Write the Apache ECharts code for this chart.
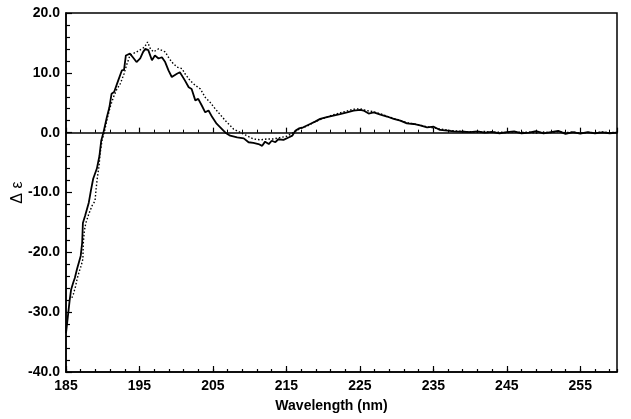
<!DOCTYPE html>
<html>
<head>
<meta charset="utf-8">
<script src="https://cdn.jsdelivr.net/npm/echarts@6/dist/echarts.min.js"></script>
<style>html,body{margin:0;padding:0;background:#fff}#c{width:631px;height:419px}</style>
</head>
<body>
<div id="c"></div>
<script>
// Solid curve (wavelength nm, delta epsilon)
const solidWavelength = [185.0,185.1,185.3,185.5,185.7,186.0,186.2,186.5,186.8,187.0,187.2,187.3,187.6,188.1,188.4,188.7,189.2,189.55,189.8,190.1,190.56,190.9,191.2,191.55,192.1,192.6,192.9,193.15,193.7,194.1,194.6,195.1,195.5,195.8,196.2,196.7,197.1,197.6,198.05,198.5,198.95,199.4,200.1,200.5,201.2,201.7,202.1,202.6,203.0,203.5,203.95,204.4,204.9,205.5,206.0,206.2,206.7,207.35,208.3,209.2,209.85,210.5,211.2,211.7,212.1,212.6,213.0,213.5,213.9,214.6,215.3,215.8,216.2,216.7,217.3,218.3,218.9,219.6,220.5,221.4,222.3,223.25,224.15,225.05,225.5,226.2,226.9,227.8,228.7,229.6,230.5,231.4,232.3,233.2,234.15,235.05,235.9,236.9,237.8,239.1,240,241,242,243,244,245,246,247,248,249,250,251,252,253,254,255,256,257,258,259,260];
const solidDelta = [-33.5,-32.4,-30.2,-28.0,-26.2,-25.0,-24.3,-22.8,-21.5,-20.6,-18.4,-15.1,-13.9,-11.7,-9.6,-7.7,-6.0,-3.9,-1.3,0.05,2.57,4.2,6.5,6.8,8.7,10.4,10.5,12.9,13.2,12.6,11.8,12.4,13.5,14.0,13.8,12.1,12.9,12.4,12.6,11.8,10.4,9.3,9.85,10.1,8.7,7.6,7.3,5.4,5.65,4.5,3.4,3.7,2.6,1.5,0.9,0.6,0.0,-0.5,-0.8,-0.95,-1.6,-1.7,-1.9,-2.2,-1.5,-1.9,-1.35,-1.6,-1.1,-1.2,-0.8,-0.5,0.3,0.7,0.9,1.5,1.85,2.3,2.6,2.85,3.1,3.4,3.7,3.8,3.7,3.2,3.4,3.0,2.7,2.3,2.0,1.55,1.45,1.2,0.9,1.0,0.45,0.35,0.2,0.15,0.1,0.2,0.0,0.15,-0.1,0.1,0.2,-0.1,0.0,0.25,-0.1,0.1,0.3,-0.2,0.1,-0.15,0.1,-0.1,0.05,-0.1,0.0];

// Dotted curve (wavelength nm, delta epsilon)
const dottedWavelength = [185.8,186.0,186.3,186.5,186.8,187.05,187.3,187.35,187.5,187.7,188.1,188.55,188.95,189.1,189.25,189.5,189.65,189.9,190.2,190.55,191.0,191.45,191.9,192.4,192.9,193.3,193.7,194.1,194.6,195.3,195.7,196.1,196.5,196.9,197.6,198.05,198.5,198.95,199.4,200.1,200.8,201.2,201.9,202.6,203.3,203.95,204.6,205.3,206.0,206.7,207.1,207.8,208.7,209.6,210.5,211.45,212.35,213.25,214.2,215.1,216.0,216.9,217.8,218.7,219.6,220.5,221.4,222.3,223.2,224.1,225.0,225.9,226.8,227.7,228.6,229.5,230.4,231.3,232.2,233.1,234.0,235.0,236.0,237.0,238.0,239,240,241,242,243,244,245,246,247,248,249,250,251,252,253,254,255,256,257,258,259,260];
const dottedDelta = [-27.6,-27.0,-25.7,-24.5,-23.2,-22.3,-21.1,-18.5,-16.4,-15.1,-13.6,-12.2,-11.4,-9.4,-7.7,-5.5,-3.4,-1.3,0.0,2.0,4.25,5.9,7.2,8.2,9.85,11.5,12.9,13.2,13.5,14.0,14.3,15.15,14.0,13.5,14.0,13.75,13.5,12.6,11.8,10.95,10.7,9.85,8.7,7.9,7.3,5.9,5.1,4.0,3.0,2.0,1.5,0.6,0.05,-0.5,-1.05,-1.2,-1.05,-1.05,-0.8,-0.6,0.05,0.7,1.1,1.7,2.2,2.6,3.0,3.3,3.6,3.9,4.0,3.7,3.5,3.2,2.8,2.4,2.1,1.7,1.5,1.3,1.0,0.8,0.6,0.4,0.3,0.2,0.15,0.1,0.2,0.05,0.1,0.0,0.15,0.05,0.1,-0.05,0.1,0.0,0.2,0.0,0.1,-0.1,0.05,0.0,0.1,0.0,0.05];

const xMin = 185, xMax = 260, xMajor = 10, xMinor = 2;
const yMin = -40, yMax = 20, yMajor = 10;

const zip = (xs, ys) => xs.map((x, i) => [x, ys[i]]);
const font = '"Liberation Sans", Arial, sans-serif';
const blk = '#000';

const chart = echarts.init(document.getElementById('c'), null, {renderer: 'canvas'});
chart.setOption({
  animation: false,
  backgroundColor: '#fff',
  grid: {left: 66, right: 14, top: 13, bottom: 47, show: true, borderColor: blk, borderWidth: 1.5, backgroundColor: 'transparent', outerBoundsMode: 'none', containLabel: false},
  xAxis: [
    {
      type: 'value', position: 'bottom', min: xMin, max: xMax, interval: xMajor,
      name: 'Wavelength (nm)', nameLocation: 'middle', nameGap: 27, nameMoveOverlap: false,
      nameTextStyle: {fontFamily: font, fontWeight: 'bold', fontSize: 14, color: blk, padding: [0, 20, 0, 0]},
      axisLine: {onZero: false, lineStyle: {color: blk, width: 1.5}},
      axisTick: {inside: true, length: 6, lineStyle: {color: blk, width: 1.2}},
      axisLabel: {fontFamily: font, fontWeight: 'bold', fontSize: 14, color: blk, margin: 7, showMaxLabel: false},
      splitLine: {show: false}
    },
    {
      type: 'value', position: 'bottom', min: xMin, max: xMax, interval: xMinor,
      axisLine: {show: false, onZero: false},
      axisTick: {inside: true, length: 3, lineStyle: {color: blk, width: 1.2}},
      axisLabel: {show: false}, splitLine: {show: false}
    },
    {
      type: 'value', position: 'bottom', min: xMin, max: xMax, interval: xMajor,
      axisLine: {show: true, onZero: true, onZeroAxisIndex: 0, lineStyle: {color: blk, width: 1.5}},
      axisTick: {inside: true, length: 5, lineStyle: {color: blk, width: 1.2}},
      minorTick: {show: true, splitNumber: 5, length: 3, lineStyle: {color: blk, width: 1}},
      axisLabel: {show: false}, splitLine: {show: false}
    }
  ],
  yAxis: [{
    type: 'value', min: yMin, max: yMax, interval: yMajor,
    name: 'Δ ε', nameLocation: 'middle', nameGap: 40, nameRotate: 90, nameMoveOverlap: false,
    nameTextStyle: {fontFamily: font, fontSize: 16, color: blk},
    axisLine: {lineStyle: {color: blk, width: 1.5}},
    axisTick: {inside: true, length: 6, lineStyle: {color: blk, width: 1.2}},
    minorTick: {show: true, splitNumber: 5, length: 4, lineStyle: {color: blk, width: 1.2}},
    axisLabel: {fontFamily: font, fontWeight: 'bold', fontSize: 14, color: blk, margin: 6, formatter: v => v.toFixed(1)},
    splitLine: {show: false}
  }],
  series: [
    {type: 'line', xAxisIndex: 0, yAxisIndex: 0, data: zip(solidWavelength, solidDelta), showSymbol: false, symbol: 'none', lineStyle: {color: blk, width: 1.8}, z: 3},
    {type: 'line', xAxisIndex: 0, yAxisIndex: 0, data: zip(dottedWavelength, dottedDelta), showSymbol: false, symbol: 'none', lineStyle: {color: blk, width: 1.4, type: [1.5, 2]}, z: 2}
  ]
});
</script>
</body>
</html>
